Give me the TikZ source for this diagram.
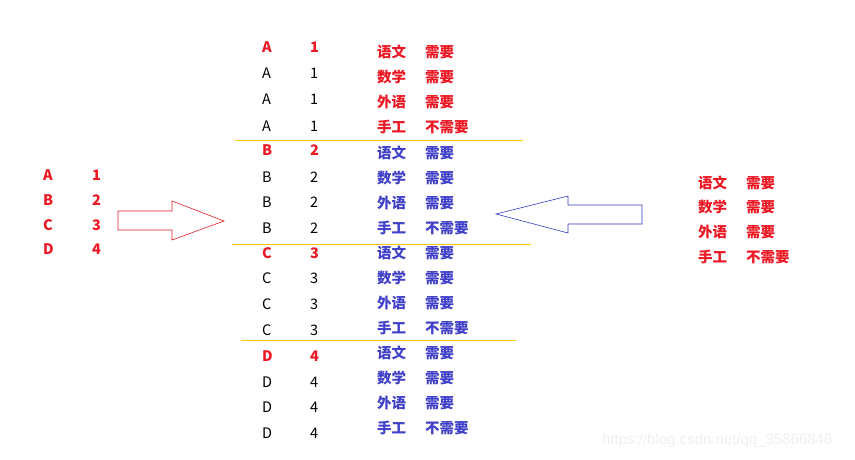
\documentclass[tikz,border=0pt]{standalone}
\usepackage{fontspec}
\setmainfont{Noto Sans CJK SC}
\newfontfamily\wmfont{Liberation Sans}
\definecolor{myred}{RGB}{236,24,36}
\definecolor{myblue}{RGB}{64,64,200}
\definecolor{arrred}{RGB}{224,30,40}
\definecolor{arrblue}{RGB}{48,60,196}
\definecolor{gold}{RGB}{255,196,0}
\definecolor{wm}{RGB}{240,240,240}
\begin{document}
\begin{tikzpicture}[x=1pt,y=-1pt,
  txt/.style={anchor=base west, inner sep=0pt, font=\fontsize{14.5}{16}\selectfont},
  hl/.style={anchor=base west, inner sep=0pt, text=myred, font=\fontsize{14.5}{16}\selectfont\bfseries},
  zh/.style={anchor=base west, inner sep=0pt, font=\fontsize{14.5}{16}\selectfont\bfseries},
  sep/.style={draw=gold, line width=1pt},
  arrowshape/.style={line width=0.6pt, line join=miter}]
\useasboundingbox (0,0) rectangle (855,459);
\fill[white] (0,0) rectangle (855,459);

% left column
\foreach \L/\N/\y [count=\i] in {A/1/175,B/2/200,C/3/225,D/4/249}{
  \node[hl] (l\i) at (43,\y+5.5) {\L};
  \node[hl] (ln\i) at (92,\y+5.5) {\N};
}

% middle column letters
\foreach \L/\N/\ya/\yb/\yc/\yd [count=\g] in {A/1/47/73/99/126,B/2/150/177/202/228,C/3/253/278/304/330,D/4/356/382/407/433}{
  \node[hl] (m\g a) at (262,\ya+5.5) {\L};
  \node[hl] (n\g a) at (310,\ya+5.5) {\N};
  \node[txt] (m\g b) at (262,\yb+5.5) {\L};
  \node[txt] (n\g b) at (310,\yb+5.5) {\N};
  \node[txt] (m\g c) at (262,\yc+5.5) {\L};
  \node[txt] (n\g c) at (310,\yc+5.5) {\N};
  \node[txt] (m\g d) at (262,\yd+5.5) {\L};
  \node[txt] (n\g d) at (310,\yd+5.5) {\N};
}

% middle column subjects
\foreach \y/\c [count=\g] in {52/myred,153/myblue,253/myblue,353/myblue}{
  \node[zh,text=\c] (s\g a) at (377,\y+5.5) {语文};
  \node[zh,text=\c] (r\g a) at (425,\y+5.5) {需要};
  \node[zh,text=\c] (s\g b) at (377,\y+25+5.5) {数学};
  \node[zh,text=\c] (r\g b) at (425,\y+25+5.5) {需要};
  \node[zh,text=\c] (s\g c) at (377,\y+50+5.5) {外语};
  \node[zh,text=\c] (r\g c) at (425,\y+50+5.5) {需要};
  \node[zh,text=\c] (s\g d) at (377,\y+75+5.5) {手工};
  \node[zh,text=\c] (r\g d) at (425,\y+75+5.5) {不需要};
}

% separators
\draw[sep] (235,140) -- (523,140);
\draw[sep] (232,244) -- (531,244);
\draw[sep] (241,340) -- (516,340);

% right column
\foreach \y/\a/\b [count=\i] in {183/语文/需要,207/数学/需要,232/外语/需要,257/手工/不需要}{
  \node[zh,text=myred] (p\i) at (698,\y+5.5) {\a};
  \node[zh,text=myred] (q\i) at (746,\y+5.5) {\b};
}

% block arrows
\draw[arrowshape,draw=arrred] (118,211) -- (172,211) -- (172,201) -- (224,221)
  -- (172,240) -- (172,230) -- (118,230) -- cycle;
\draw[arrowshape,draw=arrblue] (642,205) -- (568,205) -- (568,196) -- (496,214)
  -- (568,233) -- (568,224) -- (642,224) -- cycle;

% watermark
\node[anchor=west, inner sep=0pt, text=wm, font=\wmfont\fontsize{15}{16}\selectfont] (wmk) at (602,441) {https://blog.csdn.net/qq\_35866846};
\end{tikzpicture}
\end{document}
